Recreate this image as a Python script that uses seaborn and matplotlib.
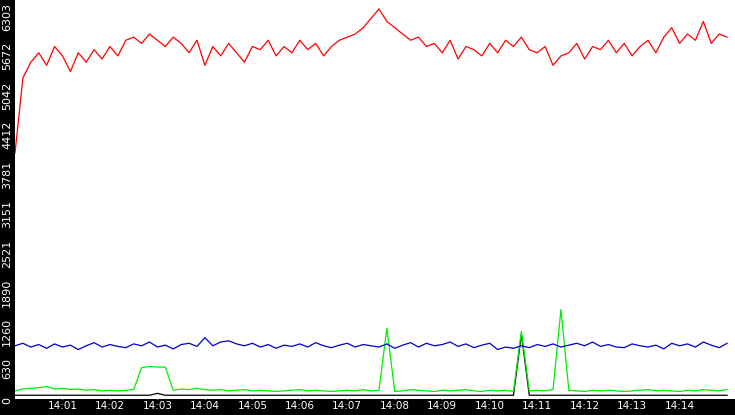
import matplotlib
matplotlib.use("Agg")
import matplotlib.pyplot as plt
import matplotlib.dates as mdates
import seaborn as sns
import pandas as pd

red = [3900,5100,5350,5500,5300,5600,5450,5200,5500,5350,5550,5400,5600,5450,5700,5750,5650,5800,5700,5600,5750,5650,5500,5700,5300,5600,5450,5650,5500,5350,5600,5550,5700,5450,5600,5500,5700,5550,5650,5450,5600,5700,5750,5800,5900,6050,6200,6000,5900,5800,5700,5750,5600,5650,5500,5700,5400,5600,5550,5450,5650,5500,5700,5600,5750,5550,5500,5600,5300,5450,5500,5650,5400,5600,5550,5700,5500,5650,5450,5600,5700,5500,5750,5900,5650,5800,5700,6000,5650,5800,5750]
blue = [820,860,800,840,780,850,800,830,760,820,870,800,840,810,790,850,820,880,800,830,770,840,860,810,950,820,880,900,850,820,860,800,840,780,830,810,850,800,870,820,790,830,860,800,840,820,800,850,780,830,870,800,860,820,840,880,810,850,790,830,860,760,800,780,820,790,840,810,850,800,830,860,820,880,810,840,800,790,850,820,800,830,770,860,820,850,800,880,830,790,860]
green = [100,130,140,150,170,130,140,120,130,110,120,100,110,100,110,120,470,490,480,480,110,130,120,140,120,110,120,100,110,120,100,110,100,90,100,110,120,100,110,100,90,100,110,100,120,100,110,1100,90,100,120,110,100,90,110,100,110,120,100,90,110,100,110,90,1050,100,110,100,120,1400,110,100,90,110,100,110,100,90,100,110,120,100,110,100,90,110,100,120,110,100,120]
black = [30]*91
black[64] = 1000
black[18] = 60
yticks = [0,630,1260,1890,2521,3151,3781,4412,5042,5672,6303]

start = pd.Timestamp("2024-01-01 14:00:00")
def times(n):
    return pd.date_range(start, periods=n, freq="10s")

fig = plt.figure(figsize=(7.35,4.15), dpi=100, facecolor="black")
ax = fig.add_axes([15/735, 16/415, 720/735, 399/415])
ax.set_facecolor("white")
for vals, c in [(black,"black"),(green,"#00ee00"),(blue,"#0000cc"),(red,"red")]:
    sns.lineplot(x=times(len(vals)), y=vals, color=c, lw=0.9, ax=ax)
ax.set_xlabel("")
ax.set_ylabel("")
ax.set_xlim(times(91)[0], times(91)[-1] + pd.Timedelta("10s"))
ax.set_ylim(-30, 6303+40)
ax.set_yticks(yticks)
ax.set_yticklabels([str(v) for v in yticks], rotation=90, va="top", color="white", fontsize=8)
ax.xaxis.set_major_locator(mdates.MinuteLocator(byminute=range(1,15)))
ax.xaxis.set_major_formatter(mdates.DateFormatter("%H:%M"))
ax.tick_params(axis="x", colors="white", labelsize=7.5, direction="in", pad=1.5, length=4)
ax.tick_params(axis="y", colors="white", direction="in", pad=2, length=4)
for s in ax.spines.values():
    s.set_visible(False)
fig.savefig("out.png", facecolor="black")
